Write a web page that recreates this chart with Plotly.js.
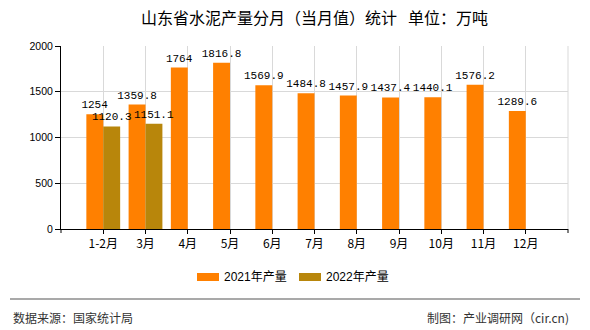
<!DOCTYPE html>
<html>
<head>
<meta charset="utf-8">
<script src="https://cdn.plot.ly/plotly-3.0.1.min.js"></script>
<style>html,body{margin:0;padding:0;background:#fff;}#chart{width:590px;height:330px;}</style>
</head>
<body>
<div id="chart"></div>
<script>
// ---- data ----
const categories = ['1-2月','3月','4月','5月','6月','7月','8月','9月','10月','11月','12月'];
const seriesNames = ['2021年产量','2022年产量'];
const values2021 = [1254, 1359.8, 1764, 1816.8, 1569.9, 1484.8, 1457.9, 1437.4, 1440.1, 1576.2, 1289.6];
const values2022 = [1120.3, 1151.1];
const yTicks = [0, 500, 1000, 1500, 2000];
const titleText = '山东省水泥产量分月（当月值）统计\u2002\u2009单位：万吨';
const sourceText = '数据来源：国家统计局';
const makerText = '制图：产业调研网（cir.cn)';
const colors = ['#FF8000', '#B8860B'];

// ---- layout helpers (pixel -> paper) ----
const W = 590, H = 330, L = 61, R = 22, T = 46, B = 101;
const PW = W - L - R, PH = H - T - B;
const px = x => (x - L) / PW;
const py = y => (H - B - y) / PH;

const labelFont = {family: 'Liberation Mono, DejaVu Sans Mono, monospace', size: 11, color: '#000'};

const traces = [
  {
    type: 'bar', name: seriesNames[0], x: categories, y: values2021,
    marker: {color: colors[0]},
    text: values2021.map(String), textposition: 'outside', constraintext: 'none',
    textfont: labelFont, cliponaxis: false, hoverinfo: 'x+y'
  },
  {
    type: 'bar', name: seriesNames[1], x: categories.slice(0, values2022.length), y: values2022,
    marker: {color: colors[1]},
    text: values2022.map(String), textposition: 'outside', constraintext: 'none',
    textfont: labelFont, cliponaxis: false, hoverinfo: 'x+y'
  }
];

const shapes = [
  // right border of plot
  {type: 'line', xref: 'paper', yref: 'paper', x0: 1, x1: 1, y0: 0, y1: 1, line: {color: '#d9d9d9', width: 1}},
  // small ticks at axis ends
  {type: 'line', xref: 'paper', yref: 'paper', x0: 0, x1: 0, y0: 0, y1: py(233), line: {color: '#000', width: 1}},
  {type: 'line', xref: 'paper', yref: 'paper', x0: 1, x1: 1, y0: 0, y1: py(233), line: {color: '#000', width: 1}},
  // footer separator
  {type: 'line', xref: 'paper', yref: 'paper', x0: px(10), x1: px(580), y0: py(299), y1: py(299), line: {color: '#8c8c8c', width: 1.5}},
];
const annotations = [];
// custom legend
const legendSw = [197, 299];
seriesNames.forEach((n, i) => {
  shapes.push({type: 'rect', xref: 'paper', yref: 'paper', x0: px(legendSw[i]), x1: px(legendSw[i] + 22),
    y0: py(281), y1: py(273), line: {width: 0}, fillcolor: colors[i]});
  annotations.push({xref: 'paper', yref: 'paper', x: px(legendSw[i] + 25), y: py(276.5), xanchor: 'left', yanchor: 'middle',
    text: n, showarrow: false, font: {family: 'Liberation Sans, Noto Sans CJK SC, sans-serif', size: 12, color: '#000'}});
});
annotations.push({xref: 'paper', yref: 'paper', x: px(11), y: py(317), xanchor: 'left', yanchor: 'middle',
  text: sourceText, showarrow: false, font: {family: 'Noto Sans CJK SC, sans-serif', size: 12, color: '#333'}});
annotations.push({xref: 'paper', yref: 'paper', x: px(571), y: py(317), xanchor: 'right', yanchor: 'middle',
  text: makerText, showarrow: false, font: {family: 'Noto Sans CJK SC, sans-serif', size: 12, color: '#333'}});

const layout = {
  width: W, height: H,
  margin: {l: L, r: R, t: T, b: B, pad: 0},
  paper_bgcolor: '#fff', plot_bgcolor: '#fff',
  title: {text: titleText, x: 0.5, xanchor: 'center', xref: 'paper', y: 1 - 18 / H, yref: 'container', yanchor: 'middle',
    font: {family: 'Noto Sans CJK SC, sans-serif', size: 16, color: '#000'}},
  barmode: 'group', bargap: 0.2, bargroupgap: 0,
  showlegend: false,
  xaxis: {
    type: 'category', range: [-1, categories.length], fixedrange: true,
    showgrid: true, gridcolor: '#d9d9d9', gridwidth: 1,
    showline: true, linecolor: '#000', linewidth: 1,
    ticks: 'outside', ticklen: 4, tickcolor: '#000',
    tickfont: {family: 'Noto Sans CJK SC, sans-serif', size: 12, color: '#000'},
    zeroline: false
  },
  yaxis: {
    range: [0, 2000], tickvals: yTicks, ticktext: yTicks.map(String), fixedrange: true,
    showgrid: true, gridcolor: '#d9d9d9', gridwidth: 1,
    showline: true, linecolor: '#000', linewidth: 1,
    ticks: 'outside', ticklen: 5, tickcolor: '#000',
    tickfont: {family: 'Liberation Sans, Arial, sans-serif', size: 10.5, color: '#000'},
    zeroline: false
  },
  shapes: shapes,
  annotations: annotations
};

Plotly.newPlot('chart', traces, layout, {displayModeBar: false, staticPlot: true});
</script>
</body>
</html>
